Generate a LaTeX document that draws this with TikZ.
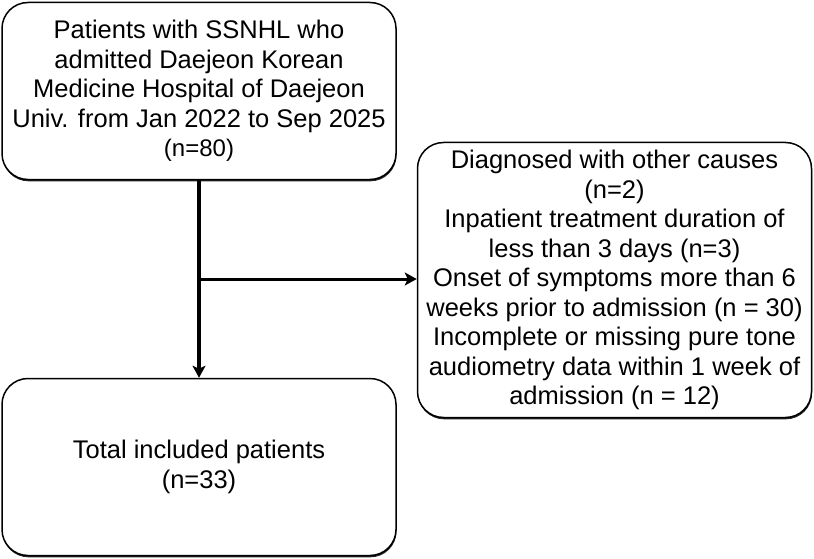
\documentclass[tikz,border=0pt]{standalone}
\usepackage{fontspec}
\setmainfont{Liberation Sans}
\usetikzlibrary{arrows.meta,calc,shadows}
\begin{document}
\begin{tikzpicture}[x=1pt,y=-1pt,
  box/.style={draw=black, line width=1.5pt, fill=white, rounded corners=26pt,
    align=center, inner sep=0pt, font=\fontsize{25.5}{29.5}\selectfont,
    drop shadow={shadow xshift=0.5pt, shadow yshift=-1.8pt, fill=black, opacity=0.85}},
  conn/.style={draw=black, -{Stealth[length=12pt,width=13pt,inset=3pt]}}
]
\useasboundingbox (0,0) rectangle (814,559);
\node[box, minimum width=394pt, minimum height=177pt] (top) at (199,91)
  {Patients with SSNHL who\\admitted Daejeon Korean\\Medicine Hospital of Daejeon\\Univ. from Jan 2022 to Sep 2025\\{\fontsize{24}{27}\selectfont (n=80)}};
\node[box, minimum width=394pt, minimum height=275pt] (excl) at (614.5,280)
  {Diagnosed with other causes\\(n=2)\\Inpatient treatment duration of\\less than 3 days (n=3)\\Onset of symptoms more than 6\\weeks prior to admission (n = 30)\\Incomplete or missing pure tone\\audiometry data within 1 week of\\admission (n = 12)};
\node[box, minimum width=394pt, minimum height=177pt] (incl) at (199,467)
  {Total included patients\\(n=33)};
\coordinate (j) at ($(top.south)!0.5!(incl.north)$);
\draw[conn, line width=4pt] (top.south) -- (incl.north);
\draw[conn, line width=3pt] (j) -- (excl.west |- j);
\end{tikzpicture}
\end{document}
